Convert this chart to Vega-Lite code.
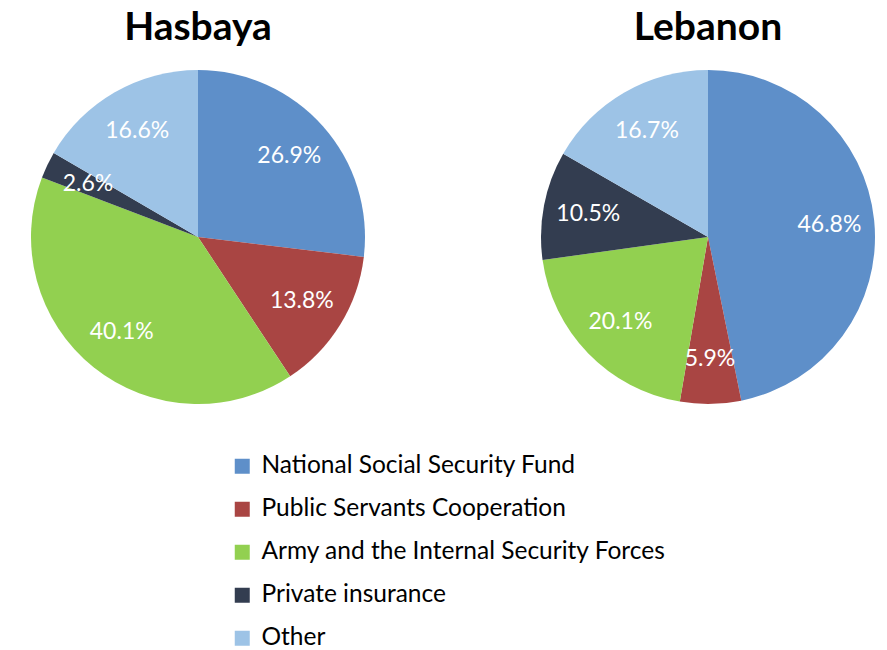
{
  "$schema": "https://vega.github.io/schema/vega-lite/v6.json",
  "background": "white",
  "padding": {"left": 31, "top": 9, "right": 5, "bottom": 5},
  "config": {"view": {"stroke": null}, "font": "Lato"},
  "data": {"values": [
    {"region": "Hasbaya", "k": 1, "category": "National Social Security Fund", "pct": 26.9, "label": "26.9%"},
    {"region": "Hasbaya", "k": 2, "category": "Public Servants Cooperation", "pct": 13.8, "label": "13.8%"},
    {"region": "Hasbaya", "k": 3, "category": "Army and the Internal Security Forces", "pct": 40.1, "label": "40.1%"},
    {"region": "Hasbaya", "k": 4, "category": "Private insurance", "pct": 2.6, "label": "2.6%"},
    {"region": "Hasbaya", "k": 5, "category": "Other", "pct": 16.6, "label": "16.6%"},
    {"region": "Lebanon", "k": 1, "category": "National Social Security Fund", "pct": 46.8, "label": "46.8%"},
    {"region": "Lebanon", "k": 2, "category": "Public Servants Cooperation", "pct": 5.9, "label": "5.9%"},
    {"region": "Lebanon", "k": 3, "category": "Army and the Internal Security Forces", "pct": 20.1, "label": "20.1%"},
    {"region": "Lebanon", "k": 4, "category": "Private insurance", "pct": 10.5, "label": "10.5%"},
    {"region": "Lebanon", "k": 5, "category": "Other", "pct": 16.7, "label": "16.7%"}
  ]},
  "facet": {
    "column": {
      "field": "region",
      "type": "nominal",
      "title": null,
      "header": {"labelFontSize": 39, "labelFontWeight": "bold", "labelColor": "black", "labelOrient": "top", "labelPadding": 22, "labelFont": "Lato"}
    }
  },
  "spacing": 176,
  "spec": {
    "width": 334,
    "height": 334,
    "layer": [
      {
        "mark": {"type": "arc"},
        "encoding": {
          "theta": {"field": "pct", "type": "quantitative", "stack": true},
          "order": {"field": "k", "type": "quantitative"},
          "color": {
            "field": "category",
            "type": "nominal",
            "scale": {
              "domain": ["National Social Security Fund", "Public Servants Cooperation", "Army and the Internal Security Forces", "Private insurance", "Other"],
              "range": ["#5E8FC9", "#A94543", "#92D050", "#333D50", "#9DC3E6"]
            },
            "legend": {
              "title": null,
              "orient": "none",
              "legendX": 199,
              "legendY": 384,
              "direction": "vertical",
              "symbolType": "square",
              "symbolSize": 225,
              "symbolStrokeWidth": 0,
              "labelFontSize": 24.5,
              "labelColor": "black",
              "labelLimit": 700,
              "labelOffset": 7,
              "rowPadding": 18,
              "padding": 0
            }
          }
        }
      },
      {
        "mark": {"type": "text", "radius": 122, "fontSize": 23, "color": "white"},
        "encoding": {
          "theta": {"field": "pct", "type": "quantitative", "stack": true},
          "order": {"field": "k", "type": "quantitative"},
          "text": {"field": "label", "type": "nominal"}
        }
      }
    ]
  }
}
